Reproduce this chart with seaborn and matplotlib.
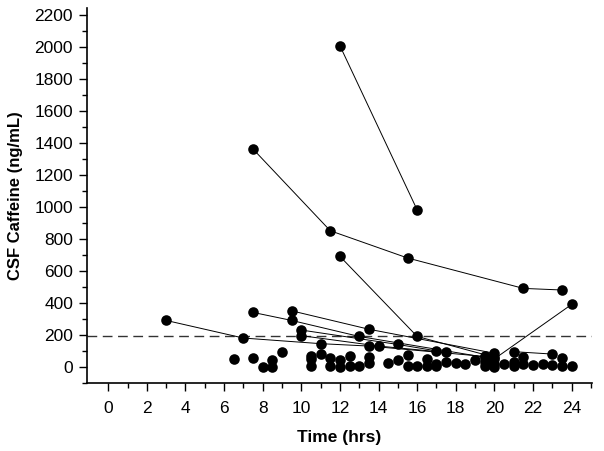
import numpy as np
import pandas as pd
import matplotlib.pyplot as plt
import seaborn as sns

# Subjects with repeated CSF samples (joined by lines)
line_subject = [1, 1,
                2, 2, 2, 2, 2,
                3, 3, 3,
                4, 4, 4, 4, 4,
                5, 5, 5, 5,
                6, 6, 6,
                7, 7, 7,
                8, 8, 8,
                9, 9,
                10, 10]
line_time = [12, 16,
             7.5, 11.5, 15.5, 21.5, 23.5,
             12, 16, 20,
             3, 7, 11, 13.5, 19.5,
             7.5, 9.5, 13, 19.5,
             9.5, 13.5, 20,
             10, 15, 17,
             10, 14, 17.5,
             21, 23,
             20, 24]
line_conc = [2005, 980,
             1360, 850, 680, 490, 480,
             690, 190, 60,
             290, 180, 145, 130, 65,
             340, 290, 190, 60,
             350, 235, 85,
             230, 140, 100,
             195, 130, 90,
             95, 80,
             50, 390]

# Single samples
single_time = [6.5, 7.5, 8, 8.5, 8.5, 9,
               10.5, 10.5, 10.5, 11, 11.5, 11.5, 12, 12, 12.5, 12.5, 13,
               13.5, 13.5, 14.5, 15, 15.5, 15.5, 16, 16.5, 16.5, 17,
               17, 17.5, 18, 18.5, 19, 19.5, 19.5, 20, 20, 20.5,
               21, 21, 21.5, 21.5, 22, 22.5, 23, 23.5, 23.5, 24]
single_conc = [50, 55, 0, 40, 0, 90,
               70, 50, 5, 80, 55, 5, 40, 0, 70, 5, 5,
               60, 25, 25, 45, 75, 5, 5, 50, 5, 5,
               20, 30, 25, 15, 40, 30, 5, 20, 0, 20,
               30, 5, 60, 20, 12, 20, 12, 55, 8, 5]

threshold = 190

lines = pd.DataFrame({"subject": line_subject, "time": line_time, "conc": line_conc})
pts = pd.concat([
    lines[["time", "conc"]],
    pd.DataFrame({"time": single_time, "conc": single_conc}),
], ignore_index=True)

sns.set_style("ticks")
plt.rcParams['font.family'] = ['Liberation Sans', 'DejaVu Sans']
plt.rcParams['text.color'] = 'black'
plt.rcParams['axes.labelcolor'] = 'black'
plt.rcParams['xtick.color'] = 'black'
plt.rcParams['ytick.color'] = 'black'
plt.rcParams['axes.edgecolor'] = 'black'

fig = plt.figure(figsize=(6.04, 4.51), dpi=100)
ax = fig.add_axes([0.144, 0.151, 0.836, 0.831])

sns.lineplot(data=lines, x="time", y="conc", units="subject", estimator=None,
             color="black", lw=0.7, ax=ax, legend=False)
ax.axhline(threshold, color="#333333", lw=1.0, ls=(0, (7, 4)), zorder=1)
sns.scatterplot(data=pts, x="time", y="conc", color="black", s=58,
                edgecolor="black", linewidth=0, ax=ax, zorder=3)

ax.set_xlim(-1.1, 25.05)
ax.set_ylim(-100, 2240)
ax.set_xticks(np.arange(0, 25, 2))
ax.set_xticks(np.arange(1, 26, 2), minor=True)
ax.set_yticks(np.arange(0, 2201, 200))
ax.set_yticks(np.arange(-100, 2201, 100), minor=True)
ax.tick_params(which="major", length=6, width=1, labelsize=12.5, pad=4)
ax.tick_params(axis="x", which="major", pad=7)
ax.tick_params(which="minor", length=3.5, width=1)

ax.set_xlabel("Time (hrs)", fontsize=12.5, fontweight="bold", labelpad=10)
ax.set_ylabel("CSF Caffeine (ng/mL)", fontsize=12, fontweight="bold", labelpad=8)

sns.despine(ax=ax)
for sp in ["left", "bottom"]:
    ax.spines[sp].set_linewidth(1.2)

fig.savefig("out.png", dpi=100)
